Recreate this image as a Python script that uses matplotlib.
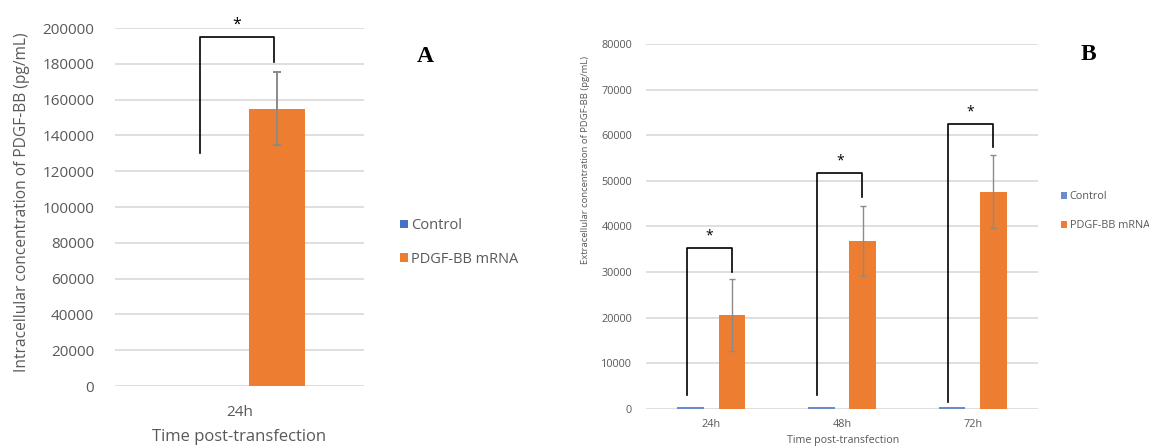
import matplotlib
matplotlib.use("Agg")
import matplotlib.pyplot as plt
import numpy as np

# panel A - intracellular
a_times = ["24h"]
a_control = [0]
a_pdgf = [155000]
a_pdgf_err = [20500]

# panel B - extracellular
b_times = ["24h", "48h", "72h"]
b_control = [400, 400, 400]
b_pdgf = [20600, 36800, 47600]
b_pdgf_err = [7800, 7700, 8000]

# significance brackets: (left leg bottom, top, right leg bottom)
a_brackets = [(130000, 195000, 181000)]
b_brackets = [(3000, 35300, 30000), (3000, 51700, 46500), (1600, 62500, 57500)]

series_names = ["Control", "PDGF-BB mRNA"]
BLUE = "#4472C4"
ORANGE = "#ED7D31"
GREY = "#595959"
GRID = "#D9D9D9"

plt.rcParams['font.family'] = ['Open Sans', 'DejaVu Sans']

W, H = 1149, 447
fig = plt.figure(figsize=(W / 100, H / 100), dpi=100)


def px_axes(l, r, t, b):
    return fig.add_axes([l / W, 1 - b / H, (r - l) / W, (b - t) / H])


def draw_panel(ax, times, ctrl, pdgf, err, brackets, ymax, step, width, off,
               tick_fs, capsize, elw, left_off, right_off, star_fs, ctrl_color):
    x = np.arange(len(times))
    b1 = ax.bar(x - off, ctrl, width, color=ctrl_color, zorder=2)
    b2 = ax.bar(x + off, pdgf, width, color=ORANGE, zorder=2)
    ax.errorbar(x + off, pdgf, yerr=err, fmt="none", ecolor="#8a8a8a",
                elinewidth=elw, capsize=capsize, capthick=elw, zorder=3)
    for i, (lb, top, rb) in enumerate(brackets):
        xl = i + left_off
        xr = i + right_off
        ax.plot([xl, xl, xr, xr], [lb, top, top, rb], color="black",
                lw=1.2, zorder=4, clip_on=False)
        ax.text((xl + xr) / 2, top + ymax * 0.012, "*", ha="center", va="bottom",
                fontsize=star_fs, color="black", clip_on=False)
    ax.set_xlim(-0.5, len(times) - 0.5)
    ax.set_ylim(0, ymax)
    ax.set_yticks(np.arange(0, ymax + 1, step))
    ax.set_yticklabels([str(int(v)) for v in np.arange(0, ymax + 1, step)])
    ax.set_xticks(x)
    ax.set_xticklabels(times)
    ax.tick_params(length=0, colors=GREY, labelsize=tick_fs)
    ax.grid(axis="y", color=GRID, lw=1.2, zorder=0)
    ax.set_axisbelow(True)
    for s in ax.spines.values():
        s.set_visible(False)
    return b1, b2


# ---- panel A
axA = px_axes(115, 364, 28, 386)
hA = draw_panel(axA, a_times, a_control, a_pdgf, a_pdgf_err, a_brackets,
                200000, 20000, 0.225, 0.149, 11, 3, 1.4, -0.16, 0.14, 11.5, BLUE)
axA.tick_params(axis="y", pad=15)
axA.tick_params(axis="x", pad=14)
fig.text(22 / W, 1 - 202 / H, "Intracellular concentration of PDGF-BB (pg/mL)",
         rotation=90, ha="center", va="center", color=GREY, fontsize=11.2)
fig.text(239 / W, 1 - 437 / H, "Time post-transfection", ha="center",
         va="center", color=GREY, fontsize=12)
fig.legend(hA, series_names, loc="upper left",
           bbox_to_anchor=(393 / W, 1 - 211 / H), frameon=False,
           fontsize=10.5, handlelength=0.5, handleheight=0.5,
           handletextpad=0.25, labelspacing=1.25, borderpad=0,
           labelcolor=GREY)
fig.text(425 / W, 1 - 57 / H, "A", ha="center", va="center", fontsize=17,
         fontweight="bold", family="Liberation Serif")

# ---- panel B
axB = px_axes(646, 1038, 44, 409)
hB = draw_panel(axB, b_times, b_control, b_pdgf, b_pdgf_err, b_brackets,
                80000, 10000, 0.206, 0.158, 7.8, 2.2, 1.0, -0.19, 0.155, 10,
                "#6a8bcf")
axB.tick_params(axis="y", pad=10)
axB.tick_params(axis="x", pad=7)
fig.text(585 / W, 1 - 160 / H, "Extracellular concentration of PDGF-BB (pg/mL)",
         rotation=90, ha="center", va="center", color=GREY, fontsize=6.8)
fig.text(843 / W, 1 - 441 / H, "Time post-transfection", ha="center",
         va="center", color=GREY, fontsize=7.7)
fig.legend(hB, series_names, loc="upper left",
           bbox_to_anchor=(1056 / W, 1 - 186 / H), frameon=False,
           fontsize=7.8, handlelength=0.5, handleheight=0.5,
           handletextpad=0.25, labelspacing=1.65, borderpad=0,
           labelcolor=GREY)
fig.text(1088 / W, 1 - 54 / H, "B", ha="center", va="center", fontsize=17,
         fontweight="bold", family="Liberation Serif")

fig.savefig("out.png", dpi=100)
